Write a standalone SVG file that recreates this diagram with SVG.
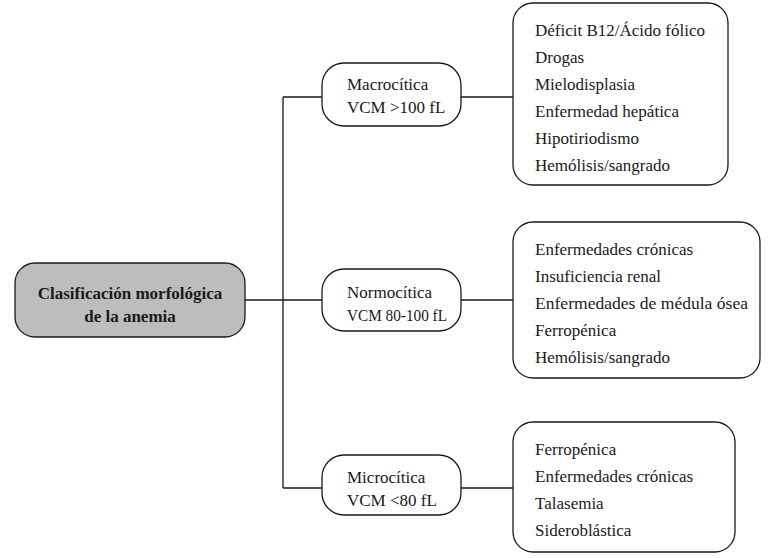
<svg xmlns="http://www.w3.org/2000/svg" width="772" height="558" viewBox="0 0 772 558">
<style>
.t{font-family:"Liberation Serif","DejaVu Serif",serif;font-size:17px;fill:#1a1a1a}
.b{font-weight:bold;text-anchor:middle}
.box{fill:#fff;stroke:#1a1a1a;stroke-width:1.3}
.root{fill:#bdbdbd;stroke:#1a1a1a;stroke-width:1.3}
.c{fill:none;stroke:#1a1a1a;stroke-width:1.3}
</style>
<rect width="772" height="558" fill="#fff"/>
<g id="connectors">
<path class="c" d="M245 300H283M283 97V488M283 97H322M283 300H322M283 488H322M461 97H513M461 300H513M461 488H513"/>
</g>
<g id="root">
<rect class="root" x="15" y="263" width="230" height="74" rx="20"/>
<text class="t b" x="130" y="299">Clasificación morfológica</text>
<text class="t b" x="130" y="322">de la anemia</text>
</g>
<g id="macro">
<rect class="box" x="322" y="63" width="139" height="63" rx="22"/>
<text class="t" x="347" y="90">Macrocítica</text>
<text class="t" x="347" y="113">VCM &gt;100 fL</text>
</g>
<g id="normo">
<rect class="box" x="322" y="269" width="139" height="62" rx="22"/>
<text class="t" x="347" y="298">Normocítica</text>
<text class="t" x="347" y="321" textLength="100" lengthAdjust="spacingAndGlyphs">VCM 80-100 fL</text>
</g>
<g id="micro">
<rect class="box" x="322" y="455" width="139" height="60" rx="22"/>
<text class="t" x="347" y="483">Microcítica</text>
<text class="t" x="347" y="506">VCM &lt;80 fL</text>
</g>
<g id="list-macro">
<rect class="box" x="513" y="3" width="215" height="182" rx="20"/>
<text class="t" x="535" y="36">Déficit B12/Ácido fólico</text>
<text class="t" x="535" y="63">Drogas</text>
<text class="t" x="535" y="90">Mielodisplasia</text>
<text class="t" x="535" y="117">Enfermedad hepática</text>
<text class="t" x="535" y="144">Hipotiriodismo</text>
<text class="t" x="535" y="171">Hemólisis/sangrado</text>
</g>
<g id="list-normo">
<rect class="box" x="513" y="222" width="247" height="156" rx="20"/>
<text class="t" x="535" y="255">Enfermedades crónicas</text>
<text class="t" x="535" y="282">Insuficiencia renal</text>
<text class="t" x="535" y="309" textLength="213" lengthAdjust="spacingAndGlyphs">Enfermedades de médula ósea</text>
<text class="t" x="535" y="336">Ferropénica</text>
<text class="t" x="535" y="363">Hemólisis/sangrado</text>
</g>
<g id="list-micro">
<rect class="box" x="513" y="422" width="222" height="130" rx="20"/>
<text class="t" x="535" y="455">Ferropénica</text>
<text class="t" x="535" y="482">Enfermedades crónicas</text>
<text class="t" x="535" y="509">Talasemia</text>
<text class="t" x="535" y="536">Sideroblástica</text>
</g>
</svg>
